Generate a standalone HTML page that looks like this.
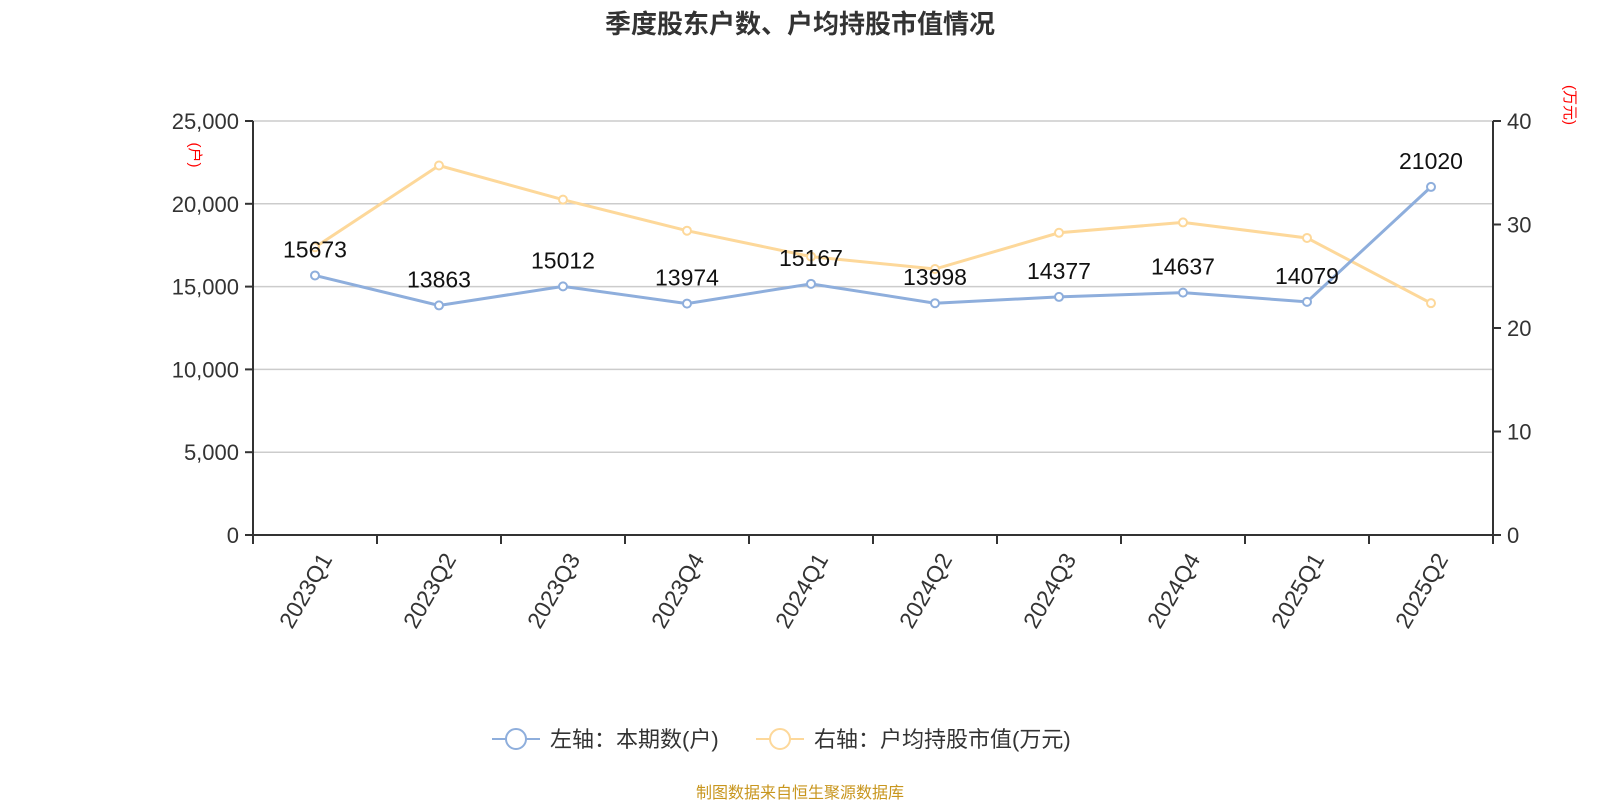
<!DOCTYPE html>
<html><head><meta charset="utf-8"><style>
body{margin:0;background:#fff;}
svg{display:block;font-family:"Liberation Sans","Noto Sans CJK SC",sans-serif;}
</style></head><body>
<svg id="c" width="1600" height="800">
<text x="800" y="33" text-anchor="middle" font-size="26" font-weight="bold" fill="#333">季度股东户数、户均持股市值情况</text>
<g id="grid"></g><g id="axes"></g><g id="series"></g>
<g>
<g>
<line x1="492" y1="739" x2="540" y2="739" stroke="#8eaedc" stroke-width="2"/>
<circle cx="516" cy="739" r="10" fill="#fff" stroke="#8eaedc" stroke-width="2"/>
<text x="550" y="747" font-size="22" fill="#333">左轴：本期数(户)</text></g>
<g>
<line x1="756" y1="739" x2="804" y2="739" stroke="#fdd89a" stroke-width="2"/>
<circle cx="780" cy="739" r="10" fill="#fff" stroke="#fdd89a" stroke-width="2"/>
<text x="814" y="747" font-size="22" fill="#333">右轴：户均持股市值(万元)</text></g>
</g>
<text x="800" y="798" text-anchor="middle" font-size="16" fill="#c8961e">制图数据来自恒生聚源数据库</text>
</svg>
<script>
const categories=["2023Q1","2023Q2","2023Q3","2023Q4","2024Q1","2024Q2","2024Q3","2024Q4","2025Q1","2025Q2"];
const households=[15673,13863,15012,13974,15167,13998,14377,14637,14079,21020];
const avgValue=[27.8,35.7,32.4,29.4,26.9,25.7,29.2,30.2,28.7,22.4];
const leftTicks=[0,5000,10000,15000,20000,25000];
const rightTicks=[0,10,20,30,40];
const NS="http://www.w3.org/2000/svg";
const L=253,R=1493,T=121,B=535;
const bw=(R-L)/categories.length;
const xc=i=>L+bw*(i+0.5);
const yl=v=>B-(v/25000)*(B-T);
const yr=v=>B-(v/40)*(B-T);
function mk(tag,attrs,parent,txt){const e=document.createElementNS(NS,tag);for(const k in attrs)e.setAttribute(k,attrs[k]);if(txt!==undefined)e.textContent=txt;parent.appendChild(e);return e;}
const grid=document.getElementById('grid'),axes=document.getElementById('axes'),series=document.getElementById('series');
leftTicks.forEach(v=>{
 if(v>0){const g=mk('line',{x1:L,x2:R,y1:yl(v),y2:yl(v),stroke:'#ccc','stroke-width':1.5},grid);
 
 }
 mk('line',{x1:L-8,x2:L,y1:yl(v),y2:yl(v),stroke:'#333','stroke-width':2},axes);
 const t=mk('text',{x:L-14,y:yl(v)+8,'text-anchor':'end','font-size':22,fill:'#333'},axes,v.toLocaleString('en-US'));
 
 
});
rightTicks.forEach(v=>{
 mk('line',{x1:R,x2:R+8,y1:yr(v),y2:yr(v),stroke:'#333','stroke-width':2},axes);
 const t=mk('text',{x:R+14,y:yr(v)+8,'font-size':22,fill:'#333'},axes,String(v));
 
 
});
mk('line',{x1:L,x2:L,y1:T,y2:B+9,stroke:'#333','stroke-width':2},axes);
mk('line',{x1:R,x2:R,y1:T,y2:B+9,stroke:'#333','stroke-width':2},axes);
mk('line',{x1:L,x2:R,y1:B,y2:B,stroke:'#333','stroke-width':2},axes);
const lt=mk('text',{x:190,y:155,'font-size':15,fill:'red',transform:'rotate(90 190 155)','text-anchor':'middle'},axes,'(户)');


const rt=mk('text',{x:1565,y:105,'font-size':15,fill:'red',transform:'rotate(90 1565 105)','text-anchor':'middle'},axes,'(万元)');


categories.forEach((c,i)=>{
 mk('line',{x1:L+bw*(i+1),x2:L+bw*(i+1),y1:B,y2:B+9,stroke:'#333','stroke-width':2},axes);
 const x=xc(i)+4,y=B+16;
 const t=mk('text',{x:x,y:y,'text-anchor':'end','font-size':23,fill:'#333',transform:`rotate(-60 ${x} ${y})`,dy:'0.7em'},axes,c);
 
 
});
function drawLine(vals,yf,color,name,labels){
 const p=mk('polyline',{points:vals.map((v,i)=>xc(i)+','+yf(v)).join(' '),fill:'none',stroke:color,'stroke-width':3},series);
 
 
 vals.forEach((v,i)=>{
  const c=mk('circle',{cx:xc(i),cy:yf(v),r:4,fill:'#fff',stroke:color,'stroke-width':2},series);
  
  
  if(labels){const t=mk('text',{x:xc(i),y:yf(v)-18,'text-anchor':'middle','font-size':23,fill:'#111'},series,String(v));
  
  }
 });
}
drawLine(avgValue,yr,'#fdd89a','avg-value',false);
drawLine(households,yl,'#8eaedc','households',true);
</script>
</body></html>
